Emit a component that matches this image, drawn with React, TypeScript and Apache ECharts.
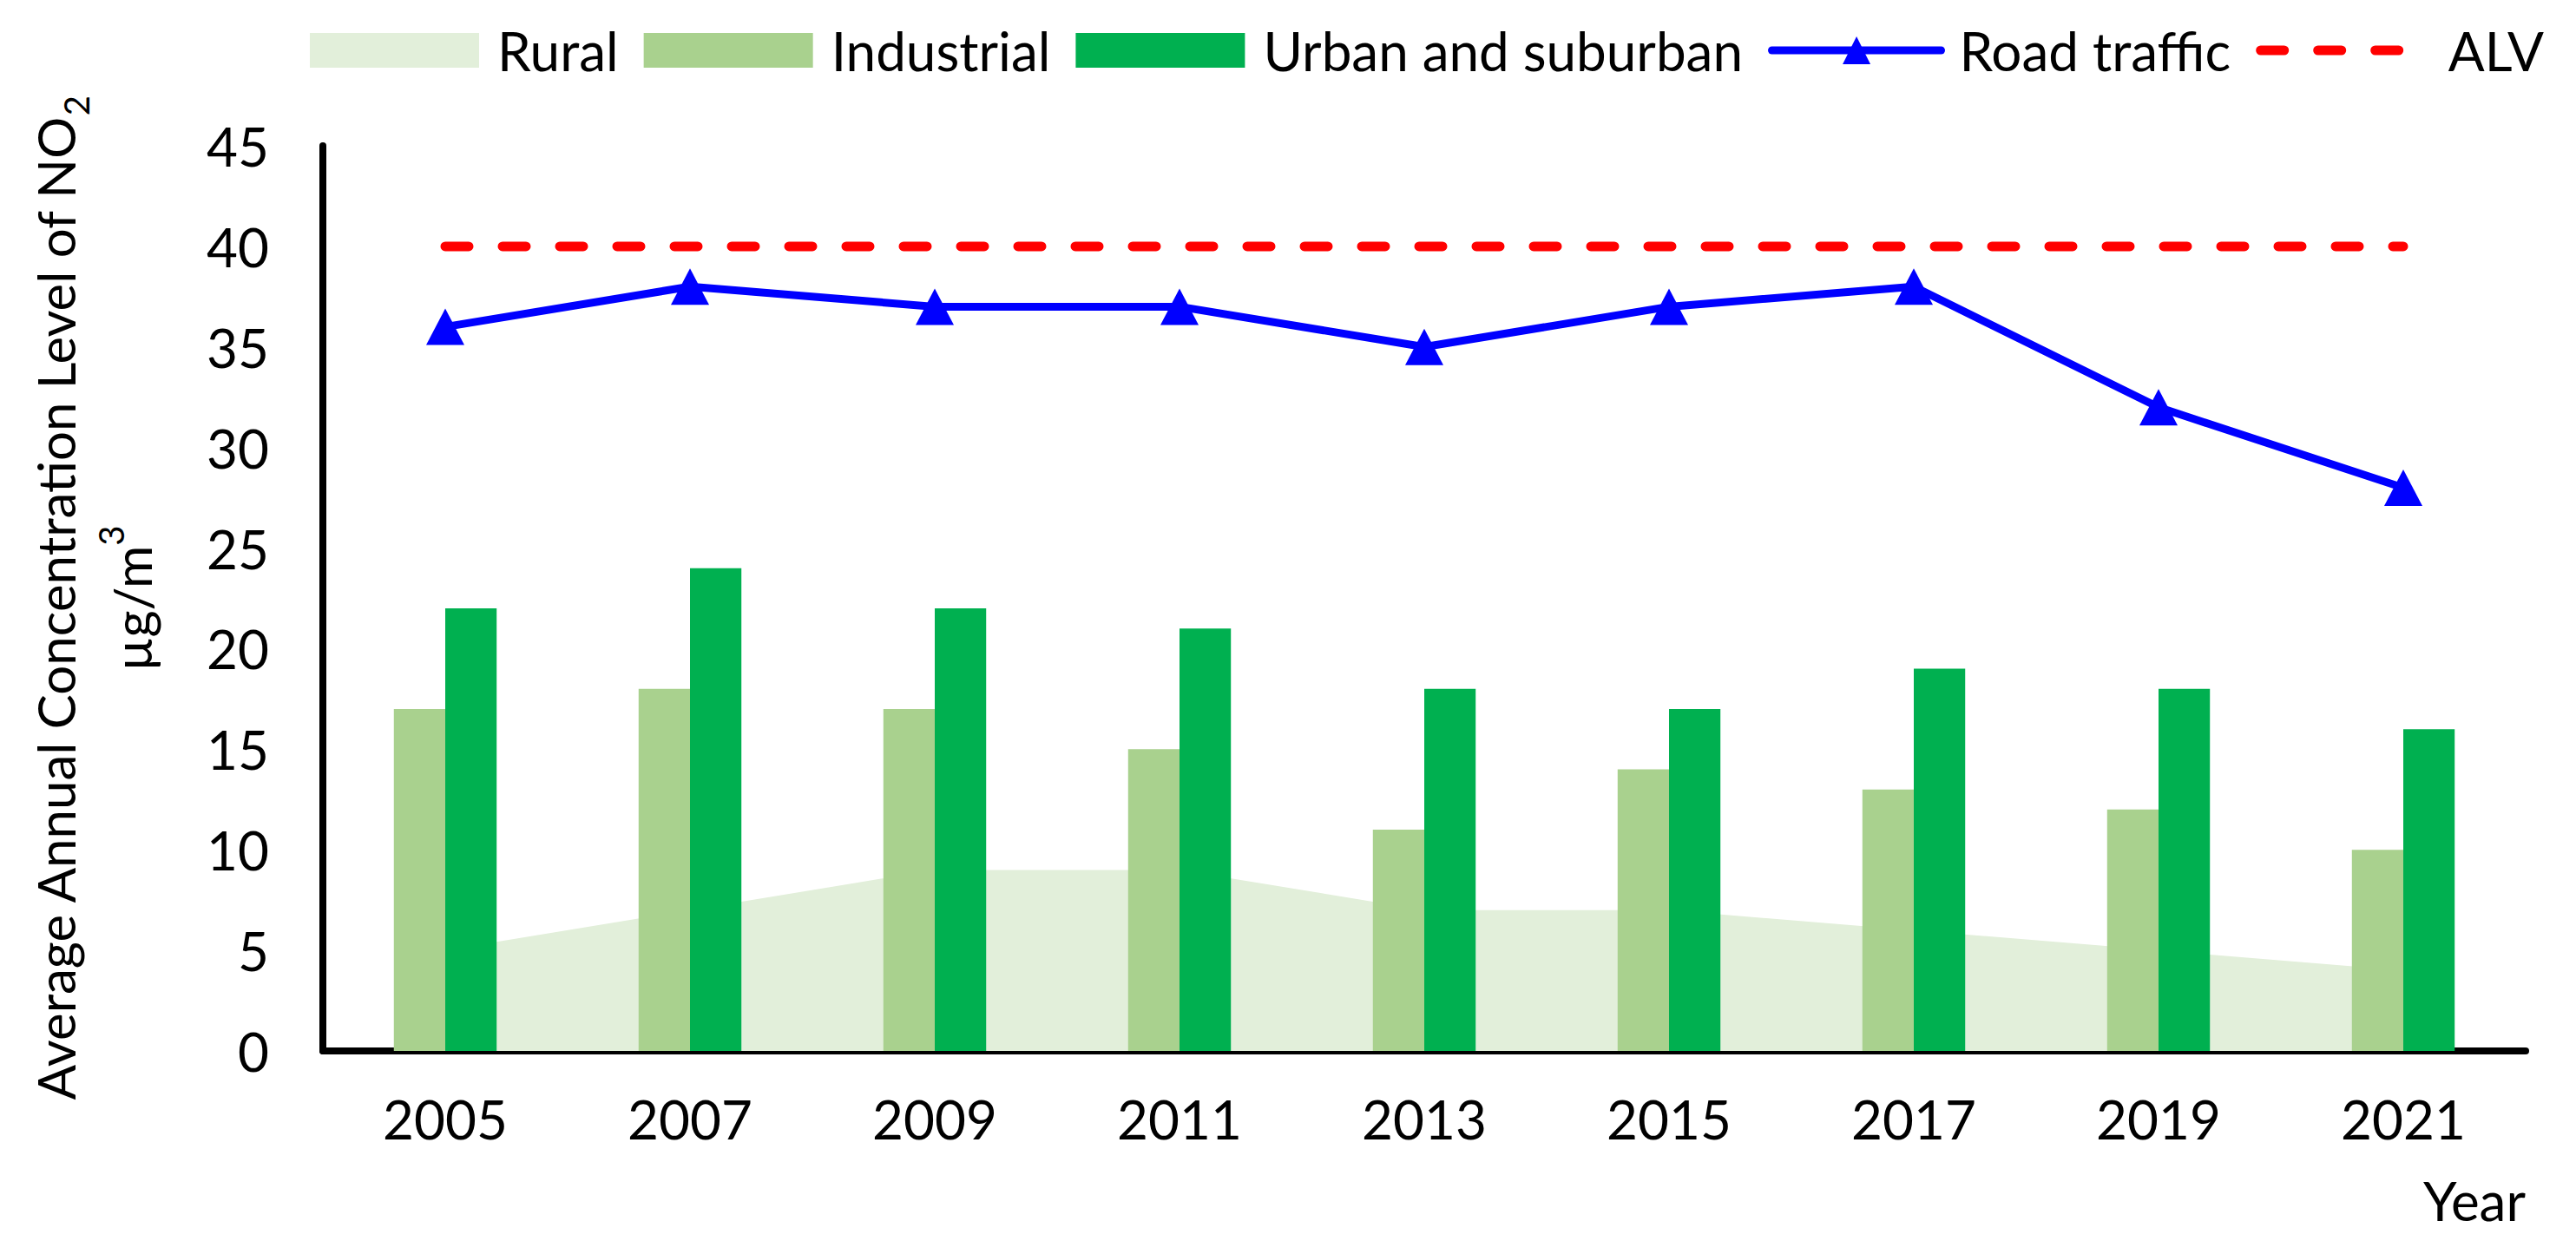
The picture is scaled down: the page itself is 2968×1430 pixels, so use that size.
import React, { useEffect, useRef } from "react";
import * as echarts from "echarts";

const years = ["2005", "2007", "2009", "2011", "2013", "2015", "2017", "2019", "2021"];
const rural = [5, 7, 9, 9, 7, 7, 6, 5, 4];
const industrial = [17, 18, 17, 15, 11, 14, 13, 12, 10];
const urban = [22, 24, 22, 21, 18, 17, 19, 18, 16];
const roadTraffic = [36, 38, 37, 37, 35, 37, 38, 32, 28];
const alv = [40, 40, 40, 40, 40, 40, 40, 40, 40];

const FONT = "Lato";

export default function App() {
  const ref = useRef<HTMLDivElement>(null);
  useEffect(() => {
    document.body.style.margin = "0";
    if (!ref.current) return;
    const chart = echarts.init(ref.current, null, { renderer: "svg" });
    chart.setOption({
      animation: false,
      backgroundColor: "#ffffff",
      textStyle: { fontFamily: FONT, color: "#000" },
      grid: { left: 372, right: 58, top: 168, bottom: 219, containLabel: false },
      legend: {
        left: 352,
        top: 22,
        itemWidth: 195,
        itemHeight: 40,
        itemGap: 29,
        textStyle: { fontFamily: FONT, fontSize: 62, color: "#000", padding: [0, 0, 0, 16] },
        data: [
          { name: "Rural", icon: "rect" },
          { name: "Industrial", icon: "rect" },
          { name: "Urban and suburban", icon: "rect" },
          {
            name: "Road traffic",
            lineStyle: { width: 9, color: "#0000FF", cap: "round" },
            itemStyle: { color: "#0000FF" },
          },
          {
            name: "ALV",
            lineStyle: { width: 11, color: "#FF0000", type: [27, 39], cap: "round" },
            itemStyle: { opacity: 0 },
          },
        ],
      },
      xAxis: {
        type: "category",
        data: years,
        boundaryGap: true,
        axisLine: { show: true, lineStyle: { color: "#000", width: 8 } },
        axisTick: { show: false },
        axisLabel: { fontFamily: FONT, fontSize: 62, color: "#000", margin: 47 },
        splitLine: { show: false },
      },
      yAxis: {
        type: "value",
        min: 0,
        max: 45,
        interval: 5,
        axisLine: { show: true, lineStyle: { color: "#000", width: 8 } },
        axisTick: { show: false },
        splitLine: { show: false },
        axisLabel: { fontFamily: FONT, fontSize: 62, color: "#000", margin: 62 },
        name: "{t|Average Annual Concentration Level of NO}{sub|2}\n{t|µg/m}{sup|3}",
        nameLocation: "middle",
        nameRotate: 90,
        nameGap: 176,
        nameTextStyle: {
          align: "center",
          rich: {
            t: { fontFamily: FONT, fontSize: 60, color: "#000", lineHeight: 88 },
            sub: { fontFamily: FONT, fontSize: 40, color: "#000", lineHeight: 40, verticalAlign: "bottom" },
            sup: { fontFamily: FONT, fontSize: 40, color: "#000", lineHeight: 40, verticalAlign: "top" },
          },
        },
      },
      graphic: [
        {
          type: "text",
          right: 58,
          top: 1352,
          style: { text: "Year", fontFamily: FONT, fontSize: 62, fill: "#000" },
        },
      ],
      series: [
        {
          name: "Rural",
          type: "line",
          data: rural,
          z: 1,
          symbol: "none",
          itemStyle: { color: "#E2EFDA" },
          lineStyle: { width: 0, color: "#E2EFDA" },
          areaStyle: { color: "#E2EFDA", opacity: 1 },
        },
        {
          name: "Industrial",
          type: "bar",
          data: industrial,
          z: 2,
          barWidth: "21%",
          barGap: "0%",
          itemStyle: { color: "#A9D18E" },
        },
        {
          name: "Urban and suburban",
          type: "bar",
          data: urban,
          z: 2,
          barWidth: "21%",
          barGap: "0%",
          itemStyle: { color: "#00B050" },
        },
        {
          name: "Road traffic",
          type: "line",
          data: roadTraffic,
          z: 4,
          symbol: "triangle",
          symbolSize: [44, 42],
          itemStyle: { color: "#0000FF" },
          lineStyle: { color: "#0000FF", width: 9 },
        },
        {
          name: "ALV",
          type: "line",
          data: alv,
          z: 3,
          symbol: "none",
          itemStyle: { color: "#FF0000" },
          lineStyle: { color: "#FF0000", width: 11, type: [27, 39], cap: "round" },
        },
      ],
    });
    return () => chart.dispose();
  }, []);
  return <div ref={ref} style={{ width: 2968, height: 1430 }} />;
}
